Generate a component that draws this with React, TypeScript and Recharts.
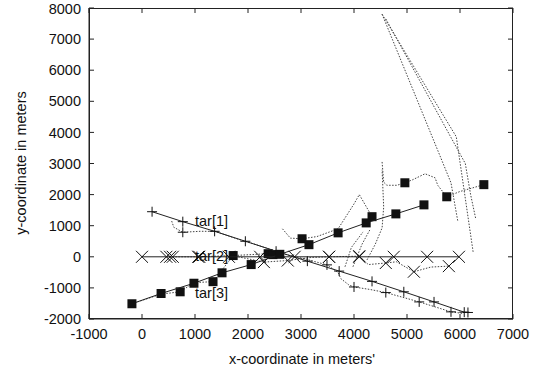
import React from 'react';
import { ScatterChart, Scatter, XAxis, YAxis } from 'recharts';

type Pt = { x: number; y: number };

const X_MIN = -1000;
const X_MAX = 7000;
const Y_MIN = -2000;
const Y_MAX = 8000;
const xTicks = [-1000, 0, 1000, 2000, 3000, 4000, 5000, 6000, 7000];
const yTicks = [-2000, -1000, 0, 1000, 2000, 3000, 4000, 5000, 6000, 7000, 8000];

// true target paths (solid)
const tar1True: Pt[] = [
  { x: 190, y: 1450 }, { x: 770, y: 1130 }, { x: 1370, y: 820 }, { x: 1950, y: 500 },
  { x: 2530, y: 180 }, { x: 3120, y: -140 }, { x: 3720, y: -460 }, { x: 4340, y: -790 },
  { x: 4940, y: -1125 }, { x: 5510, y: -1450 }, { x: 6080, y: -1780 }, { x: 6150, y: -1790 },
];
const tar2True: Pt[] = [
  { x: 0, y: 0 }, { x: 530, y: 0 }, { x: 1060, y: 0 }, { x: 1640, y: 0 }, { x: 2230, y: 0 },
  { x: 2880, y: 0 }, { x: 3530, y: 0 }, { x: 4100, y: 0 }, { x: 4750, y: 0 }, { x: 5380, y: 0 },
  { x: 5980, y: 0 },
];
const tar3True: Pt[] = [
  { x: -190, y: -1510 }, { x: 360, y: -1180 }, { x: 980, y: -850 }, { x: 1510, y: -515 },
  { x: 2060, y: -250 }, { x: 2600, y: 80 }, { x: 3150, y: 390 }, { x: 3700, y: 770 },
  { x: 4230, y: 1090 }, { x: 4790, y: 1380 }, { x: 5320, y: 1670 },
];

// estimated tracks (dotted)
const tar1Est: Pt[] = [
  { x: 560, y: 1150 }, { x: 600, y: 950 }, { x: 770, y: 790 }, { x: 1100, y: 820 },
  { x: 1380, y: 820 }, { x: 1750, y: 600 }, { x: 2100, y: 420 }, { x: 2400, y: 250 },
  { x: 2700, y: 80 }, { x: 3100, y: -80 }, { x: 3490, y: -260 }, { x: 3700, y: -500 },
  { x: 3750, y: -700 }, { x: 3900, y: -900 }, { x: 4000, y: -970 }, { x: 4300, y: -1050 },
  { x: 4600, y: -1150 }, { x: 5230, y: -1450 }, { x: 5830, y: -1770 }, { x: 6050, y: -1820 },
];
const tar1EstMarks: Pt[] = [
  { x: 770, y: 790 }, { x: 3490, y: -260 }, { x: 4000, y: -970 }, { x: 4600, y: -1150 },
  { x: 5230, y: -1450 }, { x: 5830, y: -1770 },
];
const tar2Est: Pt[] = [
  { x: 460, y: 0 }, { x: 580, y: 0 }, { x: 1080, y: 0 }, { x: 1700, y: 40 }, { x: 2300, y: -170 },
  { x: 2750, y: -120 }, { x: 3200, y: -20 }, { x: 3530, y: 0 }, { x: 4100, y: 20 },
  { x: 4270, y: -250 }, { x: 4600, y: -200 }, { x: 4800, y: -160 }, { x: 5130, y: -480 },
  { x: 5450, y: -330 }, { x: 5790, y: -300 },
];
const tar2EstMarks: Pt[] = [
  { x: 460, y: 0 }, { x: 580, y: 0 }, { x: 1080, y: 0 }, { x: 2300, y: -170 },
  { x: 2750, y: -120 }, { x: 3530, y: 0 }, { x: 4100, y: 20 }, { x: 4600, y: -200 },
  { x: 5130, y: -480 }, { x: 5790, y: -300 },
];
const tar3EstA: Pt[] = [
  { x: -190, y: -1510 }, { x: 360, y: -1200 }, { x: 720, y: -1125 }, { x: 980, y: -830 },
  { x: 1340, y: -800 }, { x: 1720, y: 40 }, { x: 2380, y: 100 }, { x: 2470, y: 60 },
];
const tar3EstB: Pt[] = [
  { x: 2650, y: 900 }, { x: 2800, y: 600 }, { x: 3020, y: 580 }, { x: 3300, y: 650 },
  { x: 3700, y: 900 }, { x: 4000, y: 1700 }, { x: 4100, y: 2000 }, { x: 4340, y: 1290 },
];
const tar3EstC: Pt[] = [
  { x: 4530, y: 3050 }, { x: 4560, y: 2400 }, { x: 4620, y: 2300 }, { x: 4810, y: 2300 },
  { x: 4960, y: 2380 }, { x: 5110, y: 2480 }, { x: 5340, y: 2670 }, { x: 5530, y: 2540 },
  { x: 5580, y: 2300 }, { x: 5750, y: 1930 }, { x: 6000, y: 2100 }, { x: 6450, y: 2320 },
];
const tar3EstMarks: Pt[] = [
  { x: 720, y: -1125 }, { x: 1340, y: -800 }, { x: 1720, y: 40 }, { x: 2380, y: 100 },
  { x: 2470, y: 70 }, { x: 3020, y: 580 }, { x: 4340, y: 1290 }, { x: 4960, y: 2380 },
  { x: 5750, y: 1930 }, { x: 6450, y: 2320 },
];

// clutter / spurious tracks
const clutter1: Pt[] = [{ x: 4530, y: 7800 }, { x: 5930, y: 3860 }, { x: 6250, y: 130 }];
const clutter2: Pt[] = [{ x: 4530, y: 7800 }, { x: 5830, y: 2380 }, { x: 5960, y: 1130 }];
const clutter3: Pt[] = [{ x: 4600, y: 7650 }, { x: 6100, y: 3000 }, { x: 6200, y: 2000 }, { x: 6300, y: 1200 }];
const clutter4: Pt[] = [{ x: 3830, y: -320 }, { x: 3950, y: 300 }, { x: 4170, y: 800 }];
const clutter5: Pt[] = [{ x: 3980, y: -320 }, { x: 4150, y: 400 }, { x: 4300, y: 870 }];
const clutter6: Pt[] = [
  { x: 4245, y: -100 }, { x: 4400, y: 400 }, { x: 4530, y: 930 }, { x: 4560, y: 1600 }, { x: 4530, y: 2800 },
];

const tarLabels = [
  { x: 1000, y: 1150, label: 'tar[1]' },
  { x: 1000, y: 30, label: 'tar[2]' },
  { x: 1000, y: -1150, label: 'tar[3]' },
];

// inward tick marks on every side (gnuplot style)
const topTicks = xTicks.map((x) => ({ x, y: Y_MAX }));
const bottomTicks = xTicks.map((x) => ({ x, y: Y_MIN }));
const leftTicks = yTicks.map((y) => ({ x: X_MIN, y }));
const rightTicks = yTicks.map((y) => ({ x: X_MAX, y }));

const W = 542;
const H = 369;
const M = { top: 8, right: 29, bottom: 0, left: 0 };
const Y_AXIS_W = 89;
const X_AXIS_H = 50;

const FONT = '"Liberation Sans", Arial, sans-serif';
const INK = '#111';

const Square = (p: any) => <rect x={p.cx - 4.5} y={p.cy - 4.5} width={9} height={9} fill={INK} />;
const Plus = (p: any) => (
  <path d={`M${p.cx - 5},${p.cy}h10M${p.cx},${p.cy - 5}v10`} stroke={INK} strokeWidth={1} fill="none" />
);
const Cross = (p: any) => (
  <path d={`M${p.cx - 6},${p.cy - 6}l12,12M${p.cx - 6},${p.cy + 6}l12,-12`} stroke={INK} strokeWidth={1} fill="none" />
);
const Empty = () => <g />;
const TickDown = (p: any) => <path d={`M${p.cx},${p.cy}v5`} stroke="#222" fill="none" />;
const TickUp = (p: any) => <path d={`M${p.cx},${p.cy}v-5`} stroke="#222" fill="none" />;
const TickRight = (p: any) => <path d={`M${p.cx},${p.cy}h5`} stroke="#222" fill="none" />;
const TickLeft = (p: any) => <path d={`M${p.cx},${p.cy}h-5`} stroke="#222" fill="none" />;
const TarLabel = (p: any) => (
  <text x={p.cx} y={p.cy} dominantBaseline="central" fontSize={14.5} fontFamily={FONT} fill={INK}>
    {p.payload.label}
  </text>
);

const solid = { stroke: '#222', strokeWidth: 1 };
const dotted = { stroke: '#444', strokeWidth: 1, strokeDasharray: '1.5 1.5' };

export default function App() {
  const tickStyle = { fill: INK, fontSize: 14.5, fontFamily: FONT };
  const common = { isAnimationActive: false };
  const plotW = W - M.left - M.right - Y_AXIS_W;
  const plotH = H - M.top - M.bottom - X_AXIS_H;
  return (
    <div style={{ position: 'absolute', left: 0, top: 0, width: W, height: H, background: '#fff' }}>
      <ScatterChart width={W} height={H} margin={M}>
        <XAxis
          type="number" dataKey="x" domain={[X_MIN, X_MAX]} ticks={xTicks}
          height={X_AXIS_H} tickSize={-5} tickMargin={15} tick={tickStyle}
          axisLine={{ stroke: '#222' }} tickLine={false}
          label={{
            content: () => (
              <text x={302} y={364} textAnchor="middle" fontSize={14.5} fontFamily={FONT} fill={INK}>
                x-coordinate in meters'
              </text>
            ),
          }}
        />
        <YAxis
          type="number" dataKey="y" domain={[Y_MIN, Y_MAX]} ticks={yTicks}
          width={Y_AXIS_W} tickSize={-5} tickMargin={13} tick={tickStyle}
          axisLine={{ stroke: '#222' }} tickLine={false}
          label={{
            content: () => (
              <text x={26} y={163} transform="rotate(-90 26 163)" textAnchor="middle" fontSize={14.5} fontFamily={FONT} fill={INK}>
                y-coordinate in meters
              </text>
            ),
          }}
        />

        <Scatter {...common} data={topTicks} shape={TickDown} />
        <Scatter {...common} data={bottomTicks} shape={TickUp} />
        <Scatter {...common} data={leftTicks} shape={TickRight} />
        <Scatter {...common} data={rightTicks} shape={TickLeft} />

        {[clutter1, clutter2, clutter3, clutter4, clutter5, clutter6, tar3EstA, tar3EstB, tar3EstC, tar1Est, tar2Est].map((d, i) => (
          <Scatter key={'d' + i} {...common} data={d} line={dotted} shape={Empty} />
        ))}

        <Scatter {...common} data={tar1EstMarks} shape={Plus} />
        <Scatter {...common} data={tar2EstMarks} shape={Cross} />
        <Scatter {...common} data={tar3EstMarks} shape={Square} />

        <Scatter {...common} data={tar1True} line={solid} shape={Plus} />
        <Scatter {...common} data={tar2True} line={solid} shape={Cross} />
        <Scatter {...common} data={tar3True} line={solid} shape={Square} />

        <Scatter {...common} data={tarLabels} shape={TarLabel} />
      </ScatterChart>
      {/* plot border box, layered over the chart (layout only) */}
      <div
        style={{
          position: 'absolute',
          left: M.left + Y_AXIS_W - 0.5,
          top: M.top - 0.5,
          width: plotW,
          height: plotH,
          border: '1px solid #222',
          boxSizing: 'border-box',
          pointerEvents: 'none',
        }}
      />
    </div>
  );
}
